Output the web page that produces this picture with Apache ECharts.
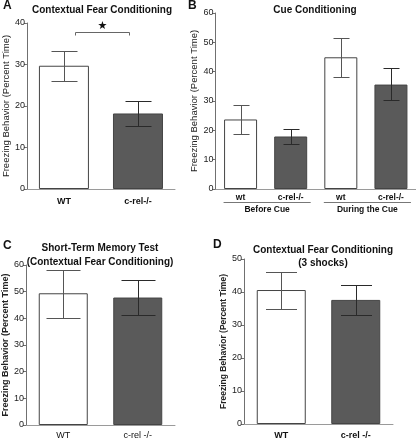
<!DOCTYPE html>
<html><head><meta charset="utf-8">
<script src="https://cdn.jsdelivr.net/npm/echarts@6/dist/echarts.min.js"></script>
<style>html,body{margin:0;padding:0;background:#fff}#c{width:416px;height:440px}</style>
</head><body><div id="c"></div>
<script>
// ---- Data ----
const catsA = ['WT', 'c-rel-/-'];
const meanA = [29.7, 18.2];
const lowA = [26.0, 15.2];
const highA = [33.3, 21.3];
const sigLevelA = 37.8;
const ticksA = [0, 10, 20, 30, 40];

const catsB = ['wt', 'c-rel-/-', 'wt', 'c-rel-/-'];
const groupsB = ['Before Cue', 'During the Cue'];
const meanB = [23.7, 17.9, 44.9, 35.6];
const lowB = [18.6, 15.2, 38.3, 30.3];
const highB = [28.8, 20.6, 51.5, 41.2];
const ticksB = [0, 10, 20, 30, 40, 50, 60];

const catsC = ['WT', 'c-rel -/-'];
const meanC = [49.4, 47.8];
const lowC = [40.1, 41.4];
const highC = [58.2, 54.3];
const ticksC = [0, 10, 20, 30, 40, 50, 60];

const catsD = ['WT', 'c-rel -/-'];
const meanD = [40.6, 37.6];
const lowD = [34.9, 32.9];
const highD = [46.0, 42.1];
const ticksD = [0, 10, 20, 30, 40, 50];

const yName = 'Freezing Behavior (Percent Time)';

// ---- Styles ----
const FONT = '"Liberation Sans", Arial, Helvetica, sans-serif';
const FILLS = ['#ffffff', '#5a5a5a'];
const ERR = ['#555555', '#2a2a2a'];
const AXIS = '#707070';

const chart = echarts.init(document.getElementById('c'), null, {renderer: 'canvas'});

function yAxis(gi, ticks, gap, fs, fw) {
  return {
    gridIndex: gi, type: 'value', min: ticks[0], max: ticks[ticks.length - 1],
    interval: ticks[1] - ticks[0],
    axisLine: {show: true, lineStyle: {color: AXIS, width: 1}},
    axisTick: {show: true, length: 3, lineStyle: {color: AXIS}},
    splitLine: {show: false},
    axisLabel: {fontSize: 9, color: '#222', margin: 2, fontFamily: FONT},
    name: yName, nameLocation: 'middle', nameGap: gap, nameRotate: 90,
    nameTextStyle: {fontSize: fs, fontWeight: fw, color: '#222', fontFamily: FONT}
  };
}
function xAxis(gi, cats, fs, fw, margin) {
  return {
    gridIndex: gi, type: 'category', data: cats,
    axisLine: {show: true, lineStyle: {color: '#9a9a9a', width: 1}},
    axisTick: {show: false},
    axisLabel: {fontSize: fs, fontWeight: fw, color: '#111', margin: margin, fontFamily: FONT, interval: 0}
  };
}
function bars(gi, mean, bw) {
  return {
    type: 'bar', xAxisIndex: gi, yAxisIndex: gi, barWidth: bw, silent: true,
    data: mean.map((v, i) => ({value: v, itemStyle: {color: FILLS[i % 2]}})),
    itemStyle: {borderColor: '#444', borderWidth: 1}
  };
}
function errs(gi, low, high, capW) {
  return {
    type: 'custom', xAxisIndex: gi, yAxisIndex: gi, silent: true, z: 5,
    encode: {x: 0, y: [1, 2]},
    data: low.map((l, i) => [i, l, high[i]]),
    renderItem: function (params, api) {
      const i = api.value(0);
      const p1 = api.coord([i, api.value(1)]);
      const p2 = api.coord([i, api.value(2)]);
      const x = Math.round(p1[0]) + 0.5;
      const y1 = Math.round(p1[1]) + 0.5, y2 = Math.round(p2[1]) + 0.5;
      const h = capW / 2;
      const st = {stroke: ERR[params.dataIndex % 2], lineWidth: 1};
      return {type: 'group', children: [
        {type: 'line', shape: {x1: x, y1: y1, x2: x, y2: y2}, style: st},
        {type: 'line', shape: {x1: x - h, y1: y1, x2: x + h, y2: y1}, style: st},
        {type: 'line', shape: {x1: x - h, y1: y2, x2: x + h, y2: y2}, style: st}
      ]};
    }
  };
}

const option = {
  animation: false,
  backgroundColor: '#fff',
  grid: [
    {left: 25, top: 23, width: 150, height: 166},
    {left: 215.5, top: 13, width: 200.5, height: 176},
    {left: 26, top: 265, width: 149, height: 161},
    {left: 244, top: 259, width: 149, height: 166}
  ],
  xAxis: [
    xAxis(0, catsA, 9, 'bold', 8),
    xAxis(1, catsB, 8.5, 'bold', 4),
    xAxis(2, catsC, 9, 'normal', 6),
    xAxis(3, catsD, 9, 'bold', 7)
  ],
  yAxis: [
    yAxis(0, ticksA, 14, 9.5, 'normal'),
    yAxis(1, ticksB, 10, 9.5, 'normal'),
    yAxis(2, ticksC, 15, 9, 'bold'),
    yAxis(3, ticksD, 14, 8.5, 'bold')
  ],
  series: [
    bars(0, meanA, 50), errs(0, lowA, highA, 26),
    bars(1, meanB, 33), errs(1, lowB, highB, 16),
    bars(2, meanC, 49), errs(2, lowC, highC, 34),
    bars(3, meanD, 49), errs(3, lowD, highD, 31),
    {
      type: 'custom', xAxisIndex: 0, yAxisIndex: 0, silent: true, z: 6,
      encode: {x: [0, 1], y: 2},
      data: [[0, 1, sigLevelA]],
      renderItem: function (params, api) {
        const a = api.coord([api.value(0), api.value(2)]);
        const b = api.coord([api.value(1), api.value(2)]);
        const x1 = Math.round(a[0] + 11) + 0.5, x2 = Math.round(b[0] - 9) + 0.5;
        const y = Math.round(a[1]) + 0.5;
        return {type: 'group', children: [
          {type: 'polyline', shape: {points: [[x1, y + 3], [x1, y], [x2, y], [x2, y + 3]]},
           style: {stroke: '#666', lineWidth: 1, fill: null}},
          {type: 'text', x: (x1 + x2) / 2, y: y - 6,
           style: {text: '★', fill: '#111', font: 'bold 11px "DejaVu Sans"', align: 'center', verticalAlign: 'middle'}}
        ]};
      }
    },
    {
      type: 'custom', xAxisIndex: 1, yAxisIndex: 1, silent: true, z: 6,
      encode: {x: [0, 1]},
      data: [[0, 1], [2, 3]],
      renderItem: function (params, api) {
        const a = api.coord([api.value(0), 0]);
        const b = api.coord([api.value(1), 0]);
        const x1 = a[0] - 17, x2 = b[0] + 20;
        const y = Math.round(a[1] + 13) + 0.5;
        return {type: 'group', children: [
          {type: 'line', shape: {x1: x1, y1: y, x2: x2, y2: y}, style: {stroke: '#777', lineWidth: 1}},
          {type: 'text', x: (x1 + x2) / 2, y: y + 7.5,
           style: {text: groupsB[params.dataIndex], fill: '#111', font: 'bold 8.5px ' + FONT, align: 'center', verticalAlign: 'middle'}}
        ]};
      }
    }
  ],
  graphic: [
    {type: 'text', x: 3, y: 0, style: {text: 'A', font: 'bold 12px ' + FONT, fill: '#111'}},
    {type: 'text', x: 188, y: 0, style: {text: 'B', font: 'bold 12px ' + FONT, fill: '#111'}},
    {type: 'text', x: 3, y: 240, style: {text: 'C', font: 'bold 12px ' + FONT, fill: '#111'}},
    {type: 'text', x: 213, y: 239, style: {text: 'D', font: 'bold 12px ' + FONT, fill: '#111'}},
    {type: 'text', x: 102, y: 10, style: {text: 'Contextual Fear Conditioning', font: 'bold 10px ' + FONT, fill: '#111', align: 'center', verticalAlign: 'middle'}},
    {type: 'text', x: 315, y: 10, style: {text: 'Cue Conditioning', font: 'bold 10px ' + FONT, fill: '#111', align: 'center', verticalAlign: 'middle'}},
    {type: 'text', x: 100, y: 248, style: {text: 'Short-Term Memory Test', font: 'bold 10px ' + FONT, fill: '#111', align: 'center', verticalAlign: 'middle'}},
    {type: 'text', x: 100, y: 262, style: {text: '(Contextual Fear Conditioning)', font: 'bold 10px ' + FONT, fill: '#111', align: 'center', verticalAlign: 'middle'}},
    {type: 'text', x: 323, y: 250, style: {text: 'Contextual Fear Conditioning', font: 'bold 10px ' + FONT, fill: '#111', align: 'center', verticalAlign: 'middle'}},
    {type: 'text', x: 323, y: 263, style: {text: '(3 shocks)', font: 'bold 10px ' + FONT, fill: '#111', align: 'center', verticalAlign: 'middle'}}
  ]
};
chart.setOption(option);
</script>
</body></html>
